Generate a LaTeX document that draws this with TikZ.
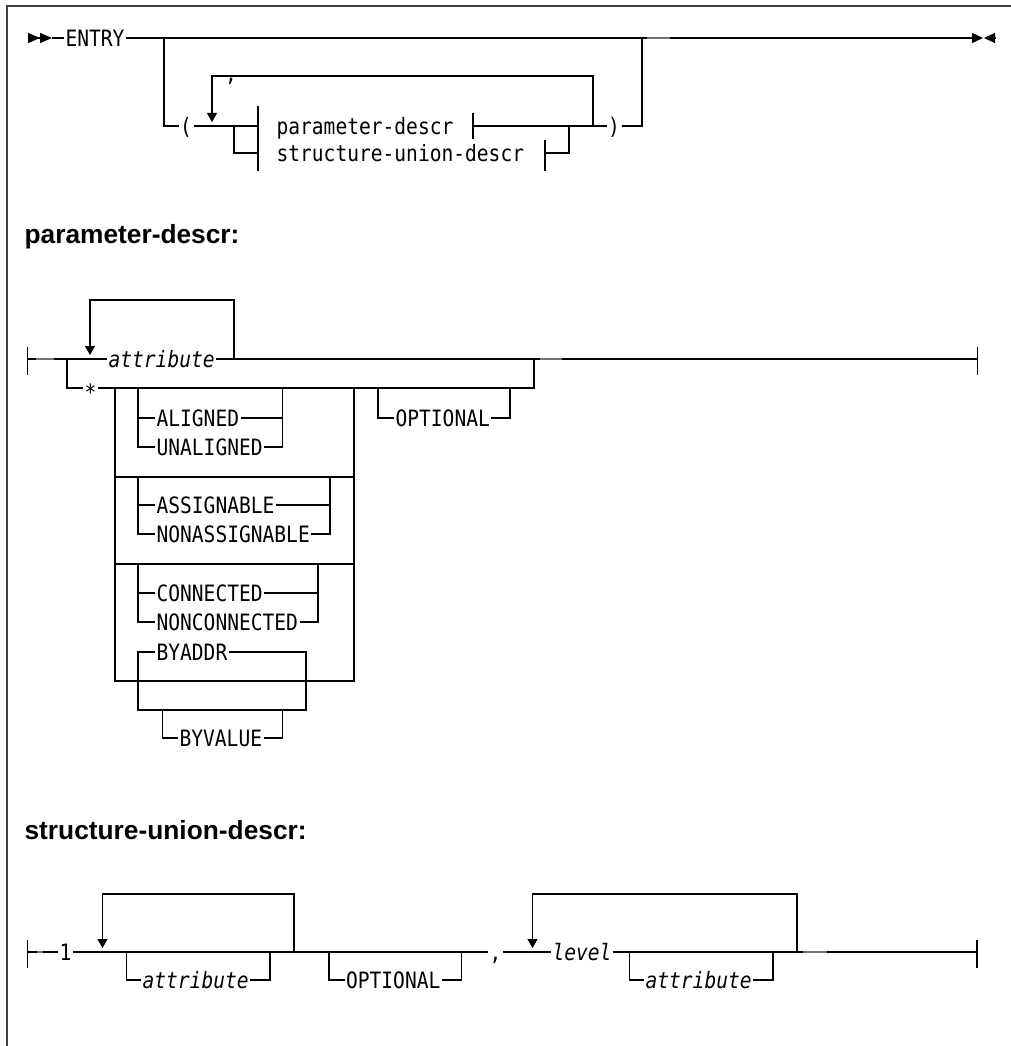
\documentclass[tikz,border=0pt]{standalone}
\usepackage{fontspec}
\newfontfamily\synfont[FakeStretch=0.87]{DejaVu Sans Mono}
\newfontfamily\headfont{Liberation Sans}
\usetikzlibrary{arrows.meta}

\begin{document}
\begin{tikzpicture}[x=1pt,y=-1pt,line width=1.2pt,
  txt/.style={font=\synfont\fontsize{22.5}{25}\selectfont,inner xsep=1pt,inner ysep=0pt,text height=16.4pt,text depth=0pt,anchor=west},
  itxt/.style={txt,font=\synfont\fontsize{22.5}{25}\selectfont\itshape},
  sechead/.style={font=\headfont\bfseries\fontsize{26.3}{30}\selectfont,inner sep=0pt,anchor=base west},
  downtip/.style={-{Triangle[length=9pt,width=10pt]}},
  dashmark/.style={line width=2.6pt,black!55},
  frameline/.style={line width=1.6pt,black!75}]
  \useasboundingbox (0,0) rectangle (1011,1046);
  \draw[frameline] (7,1046) -- (7,6) -- (1011,6);

  \node[txt] (entry) at (64,38) {ENTRY};
  \node[txt] (lpar) at (178.6,126) {(};
  \node[txt] (rpar) at (606.6,126) {)};
  \node[txt,anchor=base] (comma1) at (231,82) {,};
  \node[txt] (pd) at (275,126) {parameter-descr};
  \node[txt] (su) at (275,153) {structure-union-descr};
  \coordinate (s0) at (28,38);
  \coordinate (s1) at (52,38);
  \draw[-{Triangle[length=12pt,width=10pt] Triangle[length=12pt,width=10pt]}] (s0) -- (s1);
  \draw (s1) -- (entry.west);
  \draw[-{Triangle[length=11pt,width=10pt]}] (entry.east) -- (983,38);
  \draw[-{Triangle[length=11pt,width=10pt]}] (995,38) -- (984,38);
  \draw[dashmark] (647,38) -- (670,38);
  \draw (164,38) |- (lpar.west);
  \draw (lpar.east) -- (258,126);
  \draw (234,126) |- (258,153);
  \draw (258,106) -- (258,171);
  \draw (473,113) -- (473,139);
  \draw (545,140) -- (545,171);
  \draw (473,126) -- (rpar.west);
  \draw (545,153) -| (569,126);
  \draw (rpar.east) -| (642,38);
  \draw[downtip] (593,126) |- (212,76) -- (212,122);

  \node[sechead] (pdhead) at (24,243) {parameter-descr:};
  \node[itxt] (attr1) at (107,359) {attribute};
  \node[txt] (star) at (83,388) {\raisebox{-4pt}{*}};
  \node[txt] (ali) at (155,418) {ALIGNED};
  \node[txt] (unali) at (155,447) {UNALIGNED};
  \node[txt] (asg) at (155,505) {ASSIGNABLE};
  \node[txt] (nasg) at (155,534) {NONASSIGNABLE};
  \node[txt] (con) at (155,593) {CONNECTED};
  \node[txt] (ncon) at (155,622) {NONCONNECTED};
  \node[txt] (byaddr) at (155,652) {BYADDR};
  \node[txt] (byval) at (178,738) {BYVALUE};
  \node[txt] (opt1) at (394,418) {OPTIONAL};
  \draw (27.5,347) -- (27.5,375);
  \draw (27.5,359) -- (attr1.west);
  \draw[downtip] (234,359) |- (90,300) -- (90,355);
  \draw (attr1.east) -- (977.5,359);
  \draw (977.5,347) -- (977.5,375);
  \draw[dashmark] (36,359) -- (54,359);
  \draw[dashmark] (540,359) -- (562,359);
  \draw (67,359) |- (star.west);
  \draw (star.east) -| (534,359);
  \draw (115,388) |- (354,681) -- (354,388);
  \draw (115,477) -- (354,477);
  \draw (115,564) -- (354,564);
  \draw (138,388) |- (unali.west);
  \draw (138,418) -- (ali.west);
  \draw (ali.east) -- (282.5,418);
  \draw (unali.east) -| (282.5,388);
  \draw (138,477) |- (nasg.west);
  \draw (138,505) -- (asg.west);
  \draw (asg.east) -- (330,505);
  \draw (nasg.east) -| (330,477);
  \draw (138,564) |- (ncon.west);
  \draw (138,593) -- (con.west);
  \draw (con.east) -- (318,593);
  \draw (ncon.east) -| (318,564);
  \draw (byaddr.west) -| (138,710) -- (306,710) |- (byaddr.east);
  \draw (162.5,710) |- (byval.west);
  \draw (byval.east) -| (282.5,710);
  \draw (378,388) |- (opt1.west);
  \draw (opt1.east) -| (510,388);

  \node[sechead] (suhead) at (24,839) {structure-union-descr:};
  \node[txt] (one) at (58,952) {1};
  \node[itxt] (attr2) at (141,980) {attribute};
  \node[txt] (opt2) at (344.5,980) {OPTIONAL};
  \node[txt] (comma2) at (488,952) {,};
  \node[itxt] (lvl) at (551,952) {level};
  \node[itxt] (attr3) at (644,980) {attribute};
  \draw (27.5,940) -- (27.5,968);
  \draw (27.5,952) -- (one.west);
  \draw (one.east) -- (comma2.west);
  \draw[downtip] (294,952) |- (102.5,894) -- (102.5,948);
  \draw (126.5,952) |- (attr2.west);
  \draw (attr2.east) -| (270,952);
  \draw (329,952) |- (opt2.west);
  \draw (opt2.east) -| (461.5,952);
  \draw (comma2.east) -- (lvl.west);
  \draw[downtip] (797,952) |- (532.5,894) -- (532.5,948);
  \draw (629.5,952) |- (attr3.west);
  \draw (attr3.east) -| (773,952);
  \draw (lvl.east) -- (977,952);
  \draw (977,940) -- (977,968);
  \draw[dashmark] (37,952) -- (43,952);
  \draw[dashmark] (803,952) -- (827,952);
\end{tikzpicture}
\end{document}
